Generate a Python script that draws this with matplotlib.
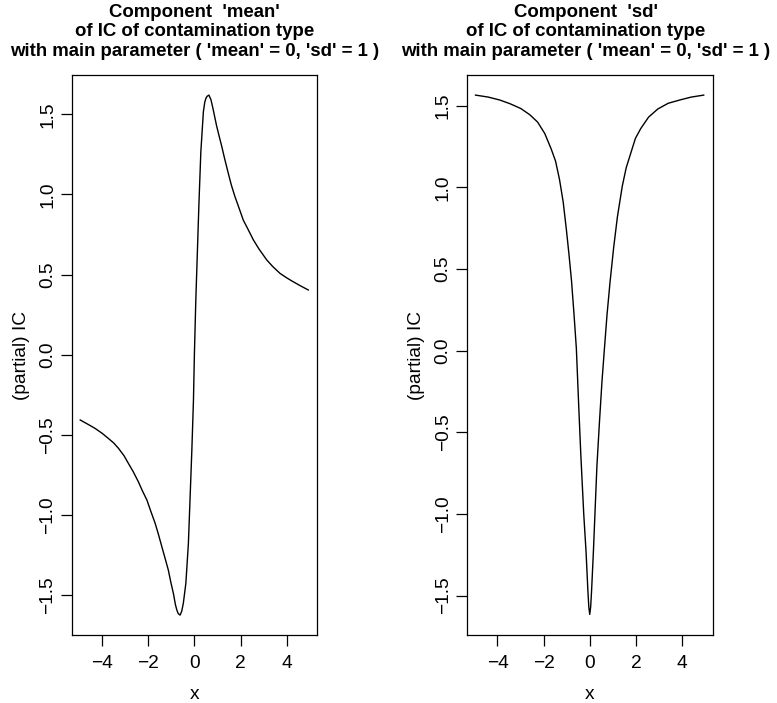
import matplotlib
matplotlib.use("Agg")
import matplotlib.pyplot as plt

plt.rcParams['font.family'] = ['Liberation Sans', 'DejaVu Sans']

# Component 'mean'
mean_x = [-4.95, -4.60, -4.31, -4.00, -3.73, -3.50, -3.29, -3.05, -2.86, -2.65,
          -2.43, -2.25, -2.06, -1.88, -1.70, -1.55, -1.41, -1.27, -1.13, -1.02,
          -0.91, -0.82, -0.76, -0.70, -0.62, -0.55, -0.48, -0.37, -0.26, -0.19,
          -0.11, -0.04, 0.00, 0.06, 0.13, 0.20, 0.28, 0.39, 0.45, 0.50,
          0.55, 0.63, 0.72, 0.80, 0.96, 1.08, 1.19, 1.30, 1.47, 1.60,
          1.76, 1.90, 2.12, 2.30, 2.56, 2.80, 3.14, 3.40, 3.71, 4.00,
          4.29, 4.60, 4.94]
mean_y = [-0.407, -0.435, -0.459, -0.490, -0.522, -0.550, -0.584, -0.630, -0.678, -0.730,
          -0.792, -0.850, -0.906, -0.980, -1.052, -1.125, -1.198, -1.270, -1.343, -1.420,
          -1.489, -1.560, -1.593, -1.615, -1.624, -1.600, -1.551, -1.426, -1.177, -0.907,
          -0.595, -0.283, 0.000, 0.331, 0.643, 0.954, 1.266, 1.516, 1.575, 1.600,
          1.612, 1.620, 1.590, 1.540, 1.430, 1.360, 1.298, 1.230, 1.132, 1.060,
          0.986, 0.930, 0.840, 0.790, 0.716, 0.660, 0.591, 0.550, 0.508, 0.480,
          0.455, 0.430, 0.404]

# Component 'sd'
sd_x = [-4.95, -4.40, -3.90, -3.45, -2.99, -2.60, -2.26, -1.95, -1.67, -1.48,
        -1.31, -1.15, -1.01, -0.90, -0.79, -0.68, -0.58, -0.48, -0.39, -0.26,
        -0.16, -0.08, -0.04, 0.00, 0.04, 0.08, 0.16, 0.31, 0.42, 0.53,
        0.63, 0.75, 0.88, 1.04, 1.20, 1.41, 1.58, 1.78, 1.98, 2.21,
        2.55, 2.95, 3.40, 3.90, 4.40, 4.94]
sd_y = [1.565, 1.553, 1.535, 1.512, 1.483, 1.445, 1.400, 1.330, 1.235, 1.160,
        1.048, 0.910, 0.738, 0.590, 0.428, 0.220, 0.014, -0.330, -0.627, -1.000,
        -1.230, -1.470, -1.570, -1.615, -1.570, -1.470, -1.227, -0.710, -0.440, -0.190,
        0.000, 0.221, 0.420, 0.635, 0.820, 1.007, 1.120, 1.210, 1.300, 1.360,
        1.430, 1.480, 1.515, 1.535, 1.553, 1.565]

title_lines = [["Component  'mean'", "of IC of contamination type",
                "with main parameter ( 'mean' = 0, 'sd' = 1 )"],
               ["Component  'sd'", "of IC of contamination type",
                "with main parameter ( 'mean' = 0, 'sd' = 1 )"]]
xticks = [-4, -2, 0, 2, 4]
yticks = [-1.5, -1.0, -0.5, 0.0, 0.5, 1.0, 1.5]
ylims = [(-1.750, 1.747), (-1.743, 1.690)]

W, H = 777, 703
FS = 13.8
TFS = 13.4
fig = plt.figure(figsize=(W / 100, H / 100), dpi=100)
positions = [(71.7, 317.3), (467.0, 712.7)]
title_cx = [194.5, 585.5]
top_px, bot_px = 74.7, 635.3
title_y_px = [12.5, 31.7, 51.0]

data = [(mean_x, mean_y), (sd_x, sd_y)]
for i, ((xl, xr), (xs, ys)) in enumerate(zip(positions, data)):
    ax = fig.add_axes([xl / W, 1 - bot_px / H, (xr - xl) / W, (bot_px - top_px) / H])
    ax.plot(xs, ys, color='black', lw=1.0)
    ax.set_xlim(-5.32, 5.33)
    ax.set_ylim(*ylims[i])
    ax.set_xticks(xticks)
    ax.set_xticklabels(["\u22124", "\u22122", "0", "2", "4"])
    ax.set_yticks(yticks)
    ax.set_yticklabels([("\u2212" if v < 0 else "") + f"{abs(v):.1f}" for v in yticks],
                       rotation=90, va='center')
    ax.tick_params(direction='out', length=8, width=0.9, labelsize=FS)
    ax.tick_params(axis='x', pad=6.5)
    ax.tick_params(axis='y', pad=3)
    for s in ax.spines.values():
        s.set_linewidth(0.9)
    ax.set_xlabel("x", fontsize=FS, labelpad=10)
    ax.set_ylabel("(partial) IC", fontsize=FS, labelpad=7)
    cx = title_cx[i] / W
    for line, ty in zip(title_lines[i], title_y_px):
        fig.text(cx, 1 - ty / H, line, ha='center', va='center',
                 fontsize=TFS, fontweight='bold')

fig.savefig("out.png", dpi=100)
